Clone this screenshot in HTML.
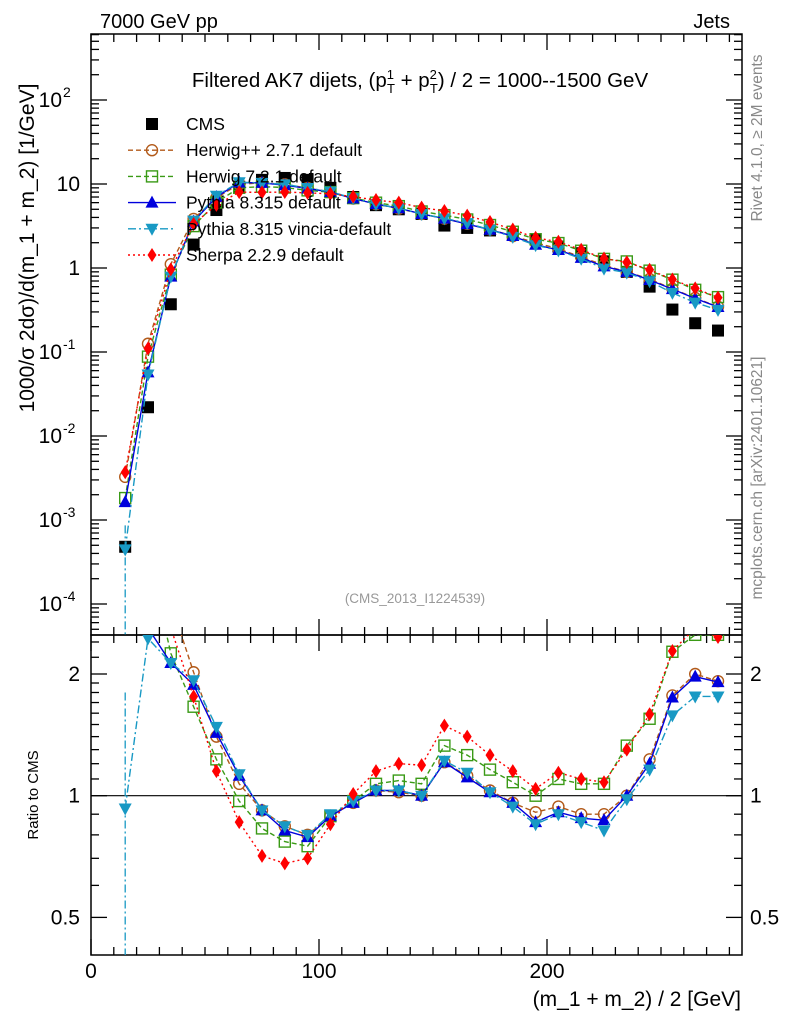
<!DOCTYPE html>
<html><head><meta charset="utf-8"><style>
body{margin:0;background:#fff;}
svg{display:block;font-family:"Liberation Sans",sans-serif;}
</style></head><body>
<svg id="chart" width="786" height="1024" viewBox="0 0 786 1024" xmlns="http://www.w3.org/2000/svg">
<defs>
<clipPath id="cTop"><rect x="91" y="34" width="651" height="601"/></clipPath>
<clipPath id="cRat"><rect x="91" y="635" width="651" height="320"/></clipPath>
</defs>
<text x="100" y="28" font-size="20">7000 GeV pp</text>
<text x="730" y="28" font-size="20" text-anchor="end">Jets</text>
<text x="420" y="87" font-size="20.5" text-anchor="middle">Filtered AK7 dijets, (p<tspan font-size="13" dy="-8">1</tspan><tspan font-size="13" dx="-7" dy="14">T</tspan><tspan dy="-6"> + p</tspan><tspan font-size="13" dy="-8">2</tspan><tspan font-size="13" dx="-7" dy="14">T</tspan><tspan dy="-6">) / 2 = 1000--1500 GeV</tspan></text>
<text x="415" y="603" font-size="13.5" fill="#999" text-anchor="middle">(CMS_2013_I1224539)</text>
<text transform="translate(762,138) rotate(-90)" font-size="15.5" fill="#888" text-anchor="middle">Rivet 4.1.0, ≥ 2M events</text>
<text transform="translate(762,478) rotate(-90)" font-size="15.5" fill="#888" text-anchor="middle">mcplots.cern.ch [arXiv:2401.10621]</text>
<text transform="translate(34,248) rotate(-90)" font-size="21" text-anchor="middle">1000/σ  2dσ)/d(m_1 + m_2) [1/GeV]</text>
<text transform="translate(38,795) rotate(-90)" font-size="15" text-anchor="middle">Ratio to CMS</text>
<text x="741" y="1006" font-size="21" text-anchor="end">(m_1 + m_2) / 2 [GeV]</text>
<g id="axes"></g>
<g id="series"></g>
<g id="legend"></g>
</svg>
<script>
const xBins=[15,25,35,45,55,65,75,85,95,105,115,125,135,145,155,165,175,185,195,205,215,225,235,245,255,265,275];
const cmsVals=[4.8e-4,0.022,0.37,1.9,4.9,9.3,11.2,11.8,11.2,9.0,7.0,5.6,5.0,4.4,3.2,3.0,2.8,2.5,2.2,1.8,1.5,1.2,0.9,0.6,0.32,0.22,0.18];
const herwigppRatio=[6.8,5.7,3.0,2.02,1.4,1.07,0.92,0.84,0.8,0.89,0.96,1.03,1.02,1.0,1.21,1.12,1.03,0.96,0.91,0.94,0.9,0.9,1.0,1.23,1.77,2.0,1.92];
const herwig7Ratio=[3.8,4.0,2.25,1.66,1.23,0.97,0.83,0.77,0.75,0.89,0.97,1.07,1.09,1.07,1.33,1.26,1.16,1.08,1.0,1.1,1.07,1.07,1.33,1.55,2.27,2.5,2.5];
const pythiaRatio=[3.4,2.6,2.13,1.88,1.43,1.12,0.92,0.82,0.79,0.89,0.96,1.03,1.03,1.0,1.21,1.11,1.02,0.96,0.86,0.91,0.88,0.87,1.0,1.2,1.75,1.97,1.91];
const vinciaRatio=[0.93,2.45,2.13,1.93,1.48,1.13,0.92,0.84,0.8,0.9,0.97,1.03,1.03,1.0,1.22,1.14,1.02,0.94,0.85,0.9,0.86,0.82,0.98,1.16,1.58,1.76,1.76];
const sherpaRatio=[7.7,5.0,2.6,1.76,1.15,0.86,0.71,0.68,0.70,0.85,1.01,1.15,1.2,1.19,1.49,1.4,1.26,1.15,1.04,1.14,1.1,1.08,1.3,1.59,2.28,2.6,2.47];
const xTicks=[0,100,200];
const yTopTicks=[-4,-3,-2,-1,0,1,2];
const yTopLabels=["10","10","10","10","1","10","10"];
const yTopExps=["-4","-3","-2","-1","","","2"];
const ratioTicks=[0.5,1,2];
const ratioLabels=["0.5","1","2"];

const NS="http://www.w3.org/2000/svg";
const L=91,R=742,T=34,M=635,B=955;
const xs=v=>L+v*2.28;
const yTop=v=>184-84*(Math.log10(v)-1);
const yRat=v=>795.7-121.7*Math.log2(v);
function mk(tag,attrs,parent){const e=document.createElementNS(NS,tag);for(const k in attrs)e.setAttribute(k,attrs[k]);parent.appendChild(e);return e;}
const ax=document.getElementById('axes');
let f1=mk('rect',{x:L,y:T,width:R-L,height:M-T,fill:'none',stroke:'#000','stroke-width':1.5},ax);


let f2=mk('rect',{x:L,y:M,width:R-L,height:B-M,fill:'none',stroke:'#000','stroke-width':1.5},ax);


let ref=mk('line',{x1:L,x2:R,y1:yRat(1),y2:yRat(1),stroke:'#000','stroke-width':1.2},ax);


for(let v=0;v<=280;v+=10){
  const x=xs(v),maj=v%100===0,len=maj?16:8;
  [[T,1],[M,-1],[M,1],[B,-1]].forEach(([y,d])=>{
    const t=mk('line',{x1:x,x2:x,y1:y,y2:y+d*len,stroke:'#000','stroke-width':1.3},ax);
    
    
  });
}
xTicks.forEach(v=>{
  const t=mk('text',{x:xs(v),y:978,'font-size':21,'text-anchor':'middle'},ax);t.textContent=v;
  
  
});
for(let d=-5;d<=2;d++){for(let m=1;m<=9;m++){
  const v=m*Math.pow(10,d),y=yTop(v);if(y<T||y>M)continue;
  const len=m===1?16:8;
  [[L,1],[R,-1]].forEach(([x,s])=>{
    const t=mk('line',{x1:x,x2:x+s*len,y1:y,y2:y,stroke:'#000','stroke-width':1.3},ax);
    
    
  });
}}
yTopTicks.forEach((d,i)=>{
  const y=yTop(Math.pow(10,d));
  const t=mk('text',{x:yTopExps[i]?62:80,y:y+7,'font-size':21,'text-anchor':'end'},ax);
  t.textContent=yTopLabels[i];
  
  
  if(yTopExps[i]){const e=mk('text',{x:63,y:y-3,'font-size':14},ax);e.textContent=yTopExps[i];
    
    }
});
const rminor=[0.4,0.6,0.7,0.8,0.9,1.1,1.2,1.3,1.4,1.5,1.6,1.7,1.8,1.9,2.2,2.4];
rminor.concat(ratioTicks).forEach(v=>{
  const y=yRat(v);if(y<M||y>B)return;const len=ratioTicks.includes(v)?16:8;
  [[L,1],[R,-1]].forEach(([x,s])=>{
    const t=mk('line',{x1:x,x2:x+s*len,y1:y,y2:y,stroke:'#000','stroke-width':1.3},ax);
    
    
  });
});
ratioTicks.forEach((v,i)=>{
  [[80,'end'],[750,'start']].forEach(([x,a])=>{
    const t=mk('text',{x:x,y:yRat(v)+7,'font-size':21,'text-anchor':a},ax);t.textContent=ratioLabels[i];
    
    
  });
});
function marker(type,x,y,col,g){
  let e;
  if(type==='sq')e=mk('rect',{x:x-6,y:y-6,width:12,height:12,fill:'#000'},g);
  else if(type==='circ')e=mk('circle',{cx:x,cy:y,r:5.5,fill:'none',stroke:col,'stroke-width':1.4},g);
  else if(type==='osq')e=mk('rect',{x:x-5.5,y:y-5.5,width:11,height:11,fill:'none',stroke:col,'stroke-width':1.4},g);
  else if(type==='tri')e=mk('polygon',{points:`${x},${y-7} ${x-6.5},${y+5} ${x+6.5},${y+5}`,fill:col},g);
  else if(type==='itri')e=mk('polygon',{points:`${x},${y+7} ${x-6.5},${y-5} ${x+6.5},${y-5}`,fill:col},g);
  else e=mk('polygon',{points:`${x},${y-7} ${x-4.5},${y} ${x},${y+7} ${x+4.5},${y}`,fill:col},g);
  return e;
}
const sg=document.getElementById('series');
const series=[
 {name:'herwigpp',r:herwigppRatio,col:'#b25a1a',dash:'5,3',m:'circ'},
 {name:'herwig7',r:herwig7Ratio,col:'#3a9a16',dash:'5,3',m:'osq'},
 {name:'pythia',r:pythiaRatio,col:'#0000dd',dash:'',m:'tri'},
 {name:'vincia',r:vinciaRatio,col:'#1899c4',dash:'8,3,2,3',m:'itri'},
 {name:'sherpa',r:sherpaRatio,col:'#ff0000',dash:'2,3',m:'dia'}
];
const gTop=mk('g',{'clip-path':'url(#cTop)'},sg);
const gRat=mk('g',{'clip-path':'url(#cRat)'},sg);
xBins.forEach((x,i)=>{
  const c=marker('sq',xs(x),yTop(cmsVals[i]),'#000',gTop);
  
  
});
series.forEach(s=>{
  const vals=xBins.map((x,i)=>cmsVals[i]*s.r[i]);
  const pt=mk('polyline',{points:xBins.map((x,i)=>xs(x)+','+yTop(vals[i])).join(' '),fill:'none',stroke:s.col,'stroke-width':1.4,'stroke-dasharray':s.dash},gTop);
  
  
  const pr=mk('polyline',{points:xBins.map((x,i)=>xs(x)+','+yRat(s.r[i])).join(' '),fill:'none',stroke:s.col,'stroke-width':1.4,'stroke-dasharray':s.dash},gRat);
  
  
  xBins.forEach((x,i)=>{
    const a=marker(s.m,xs(x),yTop(vals[i]),s.col,gTop);
    
    
    const b=marker(s.m,xs(x),yRat(s.r[i]),s.col,gRat);
    
    
  });
});
let eb=mk('line',{x1:xs(15),x2:xs(15),y1:yRat(1.8),y2:B,stroke:'#1899c4','stroke-width':1.3,'stroke-dasharray':'8,3,2,3'},gRat);


let eb2=mk('line',{x1:xs(15),x2:xs(15),y1:yTop(cmsVals[0]*1.8),y2:M,stroke:'#1899c4','stroke-width':1.3,'stroke-dasharray':'8,3,2,3'},gTop);


const lg=document.getElementById('legend');
const entries=[{label:'CMS',m:'sq',col:'#000',dash:null},
 {label:'Herwig++ 2.7.1 default',m:'circ',col:'#b25a1a',dash:'5,3'},
 {label:'Herwig 7.2.1 default',m:'osq',col:'#3a9a16',dash:'5,3'},
 {label:'Pythia 8.315 default',m:'tri',col:'#0000dd',dash:''},
 {label:'Pythia 8.315 vincia-default',m:'itri',col:'#1899c4',dash:'8,3,2,3'},
 {label:'Sherpa 2.2.9 default',m:'dia',col:'#ff0000',dash:'2,3'}];
entries.forEach((e,i)=>{
  const y=124+i*26.2;
  const g=mk('g',{},lg);
  
  
  if(e.dash!==null)mk('line',{x1:128,x2:176,y1:y,y2:y,stroke:e.col,'stroke-width':1.4,'stroke-dasharray':e.dash},g);
  marker(e.m,152,y,e.col,g);
  const t=mk('text',{x:186,y:y+6,'font-size':17.5},g);t.textContent=e.label;
});
</script>
</body></html>
